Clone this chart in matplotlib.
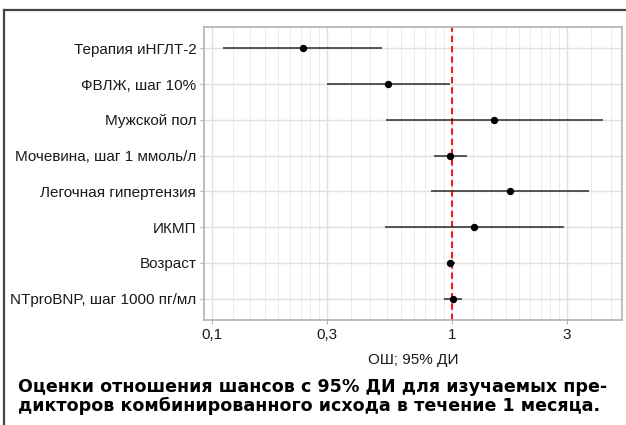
import numpy as np
import matplotlib
matplotlib.use("Agg")
import matplotlib.pyplot as plt
from matplotlib.lines import Line2D

plt.rcParams['font.family'] = ['Liberation Sans', 'DejaVu Sans']

# --- Datos (OR con IC 95%) ---
labels = ["Терапия иНГЛТ-2", "ФВЛЖ, шаг 10%", "Мужской пол",
          "Мочевина, шаг 1 ммоль/л", "Легочная гипертензия", "ИКМП",
          "Возраст", "NTproBNP, шаг 1000 пг/мл"]
odds = [0.238, 0.541, 1.49, 0.978, 1.73, 1.23, 0.978, 1.004]
ci_low = [0.111, 0.301, 0.531, 0.839, 0.813, 0.524, 0.947, 0.924]
ci_high = [0.511, 0.976, 4.21, 1.148, 3.69, 2.92, 1.029, 1.098]

major_ticks = [0.1, 0.3, 1, 3]
tick_labels = ["0,1", "0,3", "1", "3"]

W, H = 626, 425
fig = plt.figure(figsize=(W / 100, H / 100), dpi=100)

# marco exterior (línea arriba y a la izquierda)
fig.add_artist(Line2D([4 / W, 1.0], [1 - 10 / H, 1 - 10 / H], color="#444444", lw=1.6,
                      transform=fig.transFigure))
fig.add_artist(Line2D([4 / W, 4 / W], [0, 1 - 10 / H], color="#444444", lw=1.6,
                      transform=fig.transFigure))

ax = fig.add_axes([204 / W, (H - 320) / H, (621.5 - 204) / W, (320 - 27) / H])
ax.set_xscale("log")

n = len(labels)
y = np.arange(n)

# limites como ggplot (expansion 5% en log y 0.6 en discreto)
lo = np.log10(min(ci_low))
hi = np.log10(max(ci_high))
pad = (hi - lo) * 0.05
ax.set_xlim(10 ** (lo - pad), 10 ** (hi + pad))
ax.set_ylim(n - 1 + 0.6, -0.6)

# rejilla menor: 8 lineas lineales entre cortes mayores
grid_col = "#e0e0e0"
ext = major_ticks + [10]
for a, b in zip(ext[:-1], ext[1:]):
    for m in np.linspace(a, b, 10)[1:-1]:
        ax.axvline(m, color="#ebebeb", lw=0.7, zorder=0)
for t in major_ticks:
    ax.axvline(t, color=grid_col, lw=1.0, zorder=0)
for yi in y:
    ax.axhline(yi, color=grid_col, lw=1.0, zorder=0)

ax.axvline(1, color="#ff0000", lw=1.3, ls=(0, (3.5, 2.2)), zorder=1)

ax.hlines(y, ci_low, ci_high, color="#2a2a2a", lw=1.1, zorder=2)
ax.plot(odds, y, "o", color="black", ms=4.3, zorder=3)

ax.set_xticks(major_ticks)
ax.set_xticklabels(tick_labels)
ax.xaxis.set_minor_locator(plt.NullLocator())
ax.set_yticks(y)
ax.set_yticklabels(labels)

for s in ax.spines.values():
    s.set_color("#b3b3b3")
    s.set_linewidth(1.2)
ax.tick_params(axis="both", length=3, width=0.8, color="#b3b3b3",
               labelsize=11, labelcolor="#1a1a1a", pad=2.5)

ax.set_xlabel("ОШ; 95% ДИ", fontsize=11, color="#1a1a1a", labelpad=8)

title_font = dict(fontsize=12.6, fontweight="bold", va="center", ha="left",
                  family=["DejaVu Sans"])
fig.text(18 / W, 1 - 387 / H,
         "Оценки отношения шансов с 95% ДИ для изучаемых пре-", **title_font)
fig.text(18 / W, 1 - 406 / H,
         "дикторов комбинированного исхода в течение 1 месяца.", **title_font)

fig.savefig("out.png", dpi=100)
